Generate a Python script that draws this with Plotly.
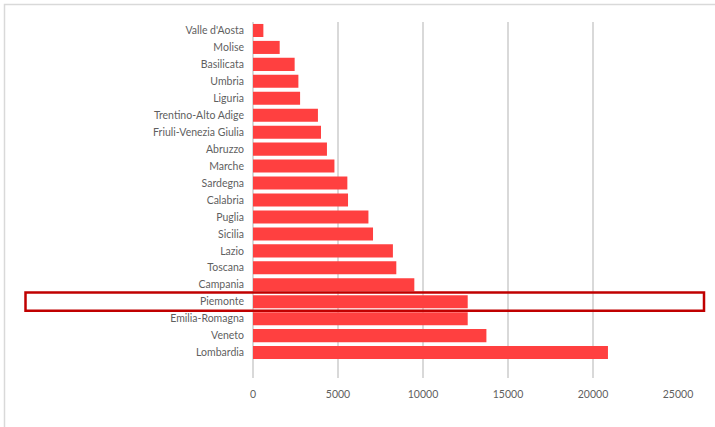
import plotly.graph_objects as go

regions = ["Lombardia", "Veneto", "Emilia-Romagna", "Piemonte", "Campania", "Toscana",
           "Lazio", "Sicilia", "Puglia", "Calabria", "Sardegna", "Marche", "Abruzzo",
           "Friuli-Venezia Giulia", "Trentino-Alto Adige", "Liguria", "Umbria",
           "Basilicata", "Molise", "Valle d'Aosta"]
values = [20880, 13730, 12630, 12630, 9490, 8430, 8230, 7060, 6790, 5590, 5550,
          4790, 4350, 4000, 3820, 2770, 2670, 2450, 1570, 610]
x_ticks = [0, 5000, 10000, 15000, 20000, 25000]
highlight = "Piemonte"

W, H = 715, 427
L, R, T, B = 253, 678, 22, 378

def px_x(p):
    return (p - L) / (R - L)

def px_y(p):
    return (B - p) / (B - T)

fig = go.Figure(go.Bar(
    x=values, y=regions, orientation="h",
    marker=dict(color="#FF4040", line=dict(width=0)),
))

hi = regions.index(highlight)
fig.add_shape(type="rect", xref="paper", yref="y",
              x0=px_x(25.5), x1=px_x(704), y0=hi - 0.54, y1=hi + 0.54,
              line=dict(color="#C00000", width=2.5), fillcolor="rgba(0,0,0,0)")
fig.add_shape(type="rect", xref="paper", yref="paper",
              x0=px_x(4.5), x1=px_x(730), y0=px_y(440), y1=px_y(4.5),
              line=dict(color="#D9D9D9", width=1.5), fillcolor="rgba(0,0,0,0)", layer="below")

fig.update_layout(
    width=W, height=H,
    margin=dict(l=L, r=W - R, t=T, b=H - B),
    paper_bgcolor="white", plot_bgcolor="white",
    bargap=0.23, showlegend=False,
    font=dict(family="Lato, Open Sans, sans-serif", size=10.5, color="#5f5f5f"),
    xaxis=dict(range=[0, 25000], tickvals=x_ticks, ticktext=[str(v) for v in x_ticks],
               showgrid=True, gridcolor="#D9D9D9", gridwidth=1.5, zeroline=True,
               zerolinecolor="#D9D9D9", zerolinewidth=1.5, showline=False, ticks="",
               ticklabelstandoff=8, fixedrange=True),
    yaxis=dict(type="category", categoryorder="array", categoryarray=regions,
               range=[-1.5, len(regions) - 0.5], showgrid=False, ticks="",
               ticklabelstandoff=8, showline=False, zeroline=False, fixedrange=True),
)

fig.write_html("out.html",
               config={"displayModeBar": False, "staticPlot": True},
               post_script="document.body.style.margin='0';document.body.style.overflow='hidden';")
